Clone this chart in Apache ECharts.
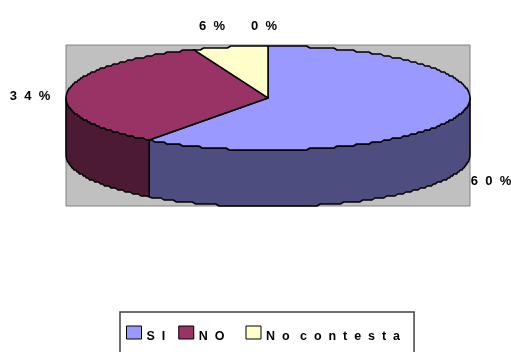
<!DOCTYPE html>
<html>
<head>
<meta charset="utf-8">
<style>html,body{margin:0;padding:0;background:#fff}#chart{width:511px;height:352px;overflow:hidden}</style>
<script src="https://cdn.jsdelivr.net/npm/echarts@6/dist/echarts.min.js"></script>
</head>
<body>
<div id="chart"></div>
<script>
// Respuestas de la encuesta, en porcentaje
const categories = ['S  I', 'N  O', 'N  o   c  o  n  t  e  s  t  a'];
const percentages = [60, 34, 6, 0];
const percentLabels = ['6  0  %', '3  4  %', '6  %', '0  %'];
const topColors = ['#9999FF', '#993366', '#FFFFCC'];
const wallColors = ['#4D4D80', '#4D1A33', '#808066'];

// Disc geometry in axis units: the disc is a unit circle, squashed by the grid's aspect
const WALL_DEPTH = 1.09;
const ARC_STEP = 1;
// The outline is drawn as a coarse staircase rather than a smooth curve
const STAIR_HEIGHT = 2;
const FONT = '"Liberation Sans", Arial, sans-serif';
const total = percentages.reduce((a, b) => a + b, 0);

function sliceAngles(index) {
  const before = percentages.slice(0, index).reduce((a, b) => a + b, 0);
  return [before / total * 360, (before + percentages[index]) / total * 360];
}

function rimPoint(api, angle, drop) {
  const r = angle * Math.PI / 180;
  return api.coord([Math.sin(r), Math.cos(r) - drop]);
}

function arcPoints(api, from, to, drop) {
  const pts = [];
  const sign = to >= from ? 1 : -1;
  pts.push(rimPoint(api, from, drop));
  for (let a = from + sign * ARC_STEP; sign * (a - to) < 0; a += sign * ARC_STEP) {
    const p = rimPoint(api, a, drop);
    pts.push([p[0], Math.round(p[1] / STAIR_HEIGHT) * STAIR_HEIGHT]);
  }
  pts.push(rimPoint(api, to, drop));
  return pts;
}

function renderSlice(index) {
  return function (params, api) {
    const [start, end] = sliceAngles(index);
    const lineStyle = { stroke: '#000', lineWidth: 1.5, lineJoin: 'round' };
    const children = [];
    const wallFrom = Math.max(start, 90);
    const wallTo = Math.min(end, 270);
    if (wallTo > wallFrom) {
      const wall = arcPoints(api, wallFrom, wallTo, 0).concat(arcPoints(api, wallTo, wallFrom, WALL_DEPTH));
      children.push({ type: 'polygon', shape: { points: wall }, style: Object.assign({ fill: wallColors[index] }, lineStyle) });
    }
    const face = [api.coord([0, 0])].concat(arcPoints(api, start, end, 0));
    children.push({ type: 'polygon', shape: { points: face }, style: Object.assign({ fill: topColors[index] }, lineStyle) });
    return { type: 'group', children };
  };
}

// Percentage captions around the disc, pixel centres on the page
const captionCentres = [[491, 181], [30, 96], [212, 26], [264, 26]];

function renderCaption(params, api) {
  const i = params.dataIndex;
  return {
    type: 'text',
    x: captionCentres[i][0],
    y: captionCentres[i][1],
    style: {
      text: percentLabels[i],
      fill: '#000',
      font: 'bold 13px ' + FONT,
      align: 'center',
      verticalAlign: 'middle'
    }
  };
}

const series = categories.map((name, i) => ({
  name,
  type: 'custom',
  coordinateSystem: 'cartesian2d',
  clip: false,
  silent: true,
  animation: false,
  itemStyle: { color: topColors[i] },
  data: [[0, 0, percentages[i]]],
  renderItem: renderSlice(i)
}));
series.push({
  name: 'captions',
  type: 'custom',
  coordinateSystem: 'cartesian2d',
  clip: false,
  silent: true,
  animation: false,
  data: percentages.map(v => [0, 0, v]),
  renderItem: renderCaption
});

const legendText = { fontFamily: FONT, fontWeight: 'bold', fontSize: 12.5, color: '#000' };

const chart = echarts.init(document.getElementById('chart'), null, { renderer: 'canvas' });
chart.setOption({
  animation: false,
  backgroundColor: '#fff',
  grid: {
    show: true,
    left: 66,
    top: 45,
    width: 404,
    height: 161,
    backgroundColor: '#C0C0C0',
    borderColor: '#808080',
    borderWidth: 1
  },
  xAxis: { type: 'value', min: -1, max: 1, show: false },
  yAxis: { type: 'value', min: -2.077, max: 1.019, show: false },
  legend: {
    data: categories,
    left: 120,
    top: 312,
    orient: 'horizontal',
    borderColor: '#404040',
    borderWidth: 1.5,
    padding: [13, 14, 25, 6],
    itemWidth: 15,
    itemHeight: 13,
    itemGap: 13,
    icon: 'rect',
    selectedMode: false,
    itemStyle: { borderColor: '#000', borderWidth: 1 },
    // The middle entry keeps a little extra room before the next swatch
    formatter: name => name === categories[1] ? `{plain|${name}}{gap|\u00A0\u00A0}` : `{plain|${name}}`,
    textStyle: Object.assign({}, legendText, {
      rich: {
        plain: Object.assign({}, legendText, { padding: [9, 0, 0, 0] }),
        gap: Object.assign({}, legendText, { fontSize: 14.5 })
      }
    })
  },
  series
});
</script>
</body>
</html>
